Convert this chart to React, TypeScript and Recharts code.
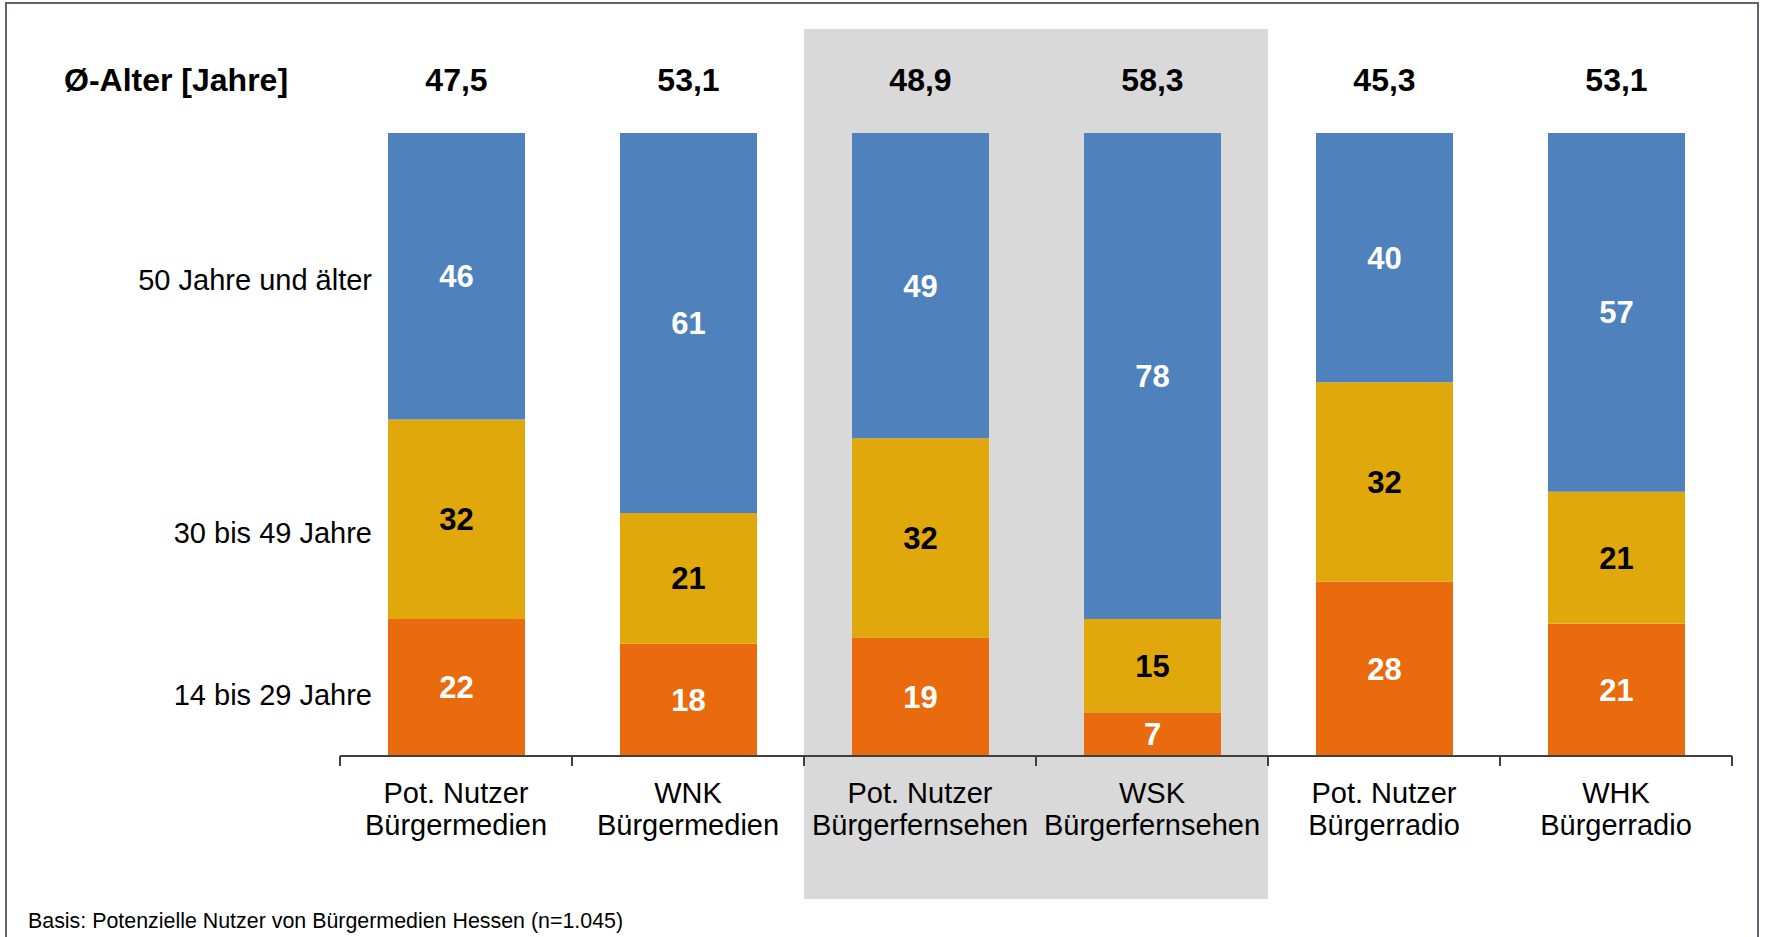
import { BarChart, Bar, XAxis, YAxis, LabelList, ReferenceArea } from 'recharts'

const categories = [
  'Pot. Nutzer Bürgermedien',
  'WNK Bürgermedien',
  'Pot. Nutzer Bürgerfernsehen',
  'WSK Bürgerfernsehen',
  'Pot. Nutzer Bürgerradio',
  'WHK Bürgerradio',
]
const young = [22, 18, 19, 7, 28, 21]
const middle = [32, 21, 32, 15, 32, 21]
const old = [46, 61, 49, 78, 40, 57]
const avgAge = ['47,5', '53,1', '48,9', '58,3', '45,3', '53,1']
const groupLabels = ['14 bis 29 Jahre', '30 bis 49 Jahre', '50 Jahre und älter']
const groupTicks = [0.098, 0.358, 0.765]
const highlighted = [categories[2], categories[3]]

const data = categories.map((name, i) => ({
  name,
  young: young[i],
  middle: middle[i],
  old: old[i],
  avg: avgAge[i],
}))

// layout
const W = 1766
const H = 937
const PLOT_LEFT = 340
const PLOT_RIGHT = 1732
const PLOT_TOP = 133
const PLOT_BOTTOM = 756
const BAND = (PLOT_RIGHT - PLOT_LEFT) / categories.length

const BLUE = '#4F81BD'
const YELLOW = '#E0A80B'
const ORANGE = '#EA6B0D'
const AXIS = '#404040'

// eslint-disable-next-line @typescript-eslint/no-explicit-any
const XTick = (props: any) => {
  const { x, payload } = props
  const name: string = payload.value
  const idx = categories.indexOf(name)
  const cut = name.lastIndexOf(' ')
  const left = x - BAND / 2
  return (
    <g>
      <line x1={left} x2={left} y1={PLOT_BOTTOM} y2={PLOT_BOTTOM + 10} stroke={AXIS} strokeWidth={2} />
      {idx === categories.length - 1 && (
        <line x1={x + BAND / 2} x2={x + BAND / 2} y1={PLOT_BOTTOM} y2={PLOT_BOTTOM + 10} stroke={AXIS} strokeWidth={2} />
      )}
      <text x={x} y={PLOT_BOTTOM + 47} textAnchor="middle" fontSize={29} fill="#000">
        <tspan x={x}>{name.slice(0, cut)}</tspan>
        <tspan x={x} dy={32}>{name.slice(cut + 1)}</tspan>
      </text>
    </g>
  )
}

// eslint-disable-next-line @typescript-eslint/no-explicit-any
const YTick = (props: any) => {
  const { y, payload } = props
  const i = groupTicks.indexOf(payload.value)
  return (
    <text x={PLOT_LEFT + 32} y={y} dy="0.355em" textAnchor="end" fontSize={29} fill="#000">
      {groupLabels[i]}
    </text>
  )
}

// eslint-disable-next-line @typescript-eslint/no-explicit-any
const Highlight = (p: any) => (
  <rect
    x={p.x}
    y={p.y - (PLOT_TOP - 29)}
    width={p.width}
    height={p.height + (PLOT_TOP - 29) + (899 - PLOT_BOTTOM)}
    fill="#D9D9D9"
  />
)

export default function App() {
  return (
    <div
      style={{
        position: 'absolute',
        left: 0,
        top: 0,
        width: W,
        height: H,
        overflow: 'hidden',
        background: '#fff',
        fontFamily: '"Liberation Sans", Arial, sans-serif',
      }}
    >
      <BarChart
        width={W}
        height={H}
        data={data}
        stackOffset="expand"
        margin={{ top: PLOT_TOP, right: W - PLOT_RIGHT, bottom: H - PLOT_BOTTOM - 60, left: 0 }}
      >
        <ReferenceArea x1={highlighted[0]} x2={highlighted[1]} ifOverflow="visible" shape={Highlight} />
        <XAxis
          dataKey="name"
          height={60}
          axisLine={{ stroke: AXIS, strokeWidth: 2 }}
          tickLine={false}
          tick={<XTick />}
          interval={0}
        />
        <YAxis
          width={PLOT_LEFT}
          domain={[0, 1]}
          ticks={groupTicks}
          interval={0}
          axisLine={false}
          tickLine={false}
          tick={<YTick />}
        />
        <Bar dataKey="young" stackId="a" fill={ORANGE} barSize={137} isAnimationActive={false}>
          <LabelList dataKey="young" position="center" fill="#fff" fontSize={31} fontWeight="bold" />
        </Bar>
        <Bar dataKey="middle" stackId="a" fill={YELLOW} barSize={137} isAnimationActive={false}>
          <LabelList dataKey="middle" position="center" fill="#000" fontSize={31} fontWeight="bold" />
        </Bar>
        <Bar dataKey="old" stackId="a" fill={BLUE} barSize={137} isAnimationActive={false}>
          <LabelList dataKey="old" position="center" fill="#fff" fontSize={31} fontWeight="bold" />
          <LabelList dataKey="avg" position="top" offset={42} fill="#000" fontSize={32} fontWeight="bold" />
        </Bar>
      </BarChart>
      <svg
        width={W}
        height={H}
        style={{ position: 'absolute', left: 0, top: 0, pointerEvents: 'none' }}
      >
        <rect x={6} y={3} width={1752} height={H} fill="none" stroke="#5d6670" strokeWidth={2} />
        <text x={64} y={80} dy="0.355em" fontSize={32} fontWeight="bold" fill="#000">
          Ø-Alter [Jahre]
        </text>
        <text x={28} y={920} dy="0.355em" fontSize={21.4} fill="#000">
          Basis: Potenzielle Nutzer von Bürgermedien Hessen (n=1.045)
        </text>
      </svg>
    </div>
  )
}
